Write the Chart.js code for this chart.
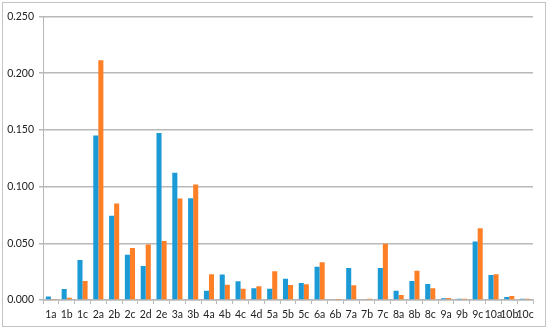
<!DOCTYPE html>
<html>
<head>
<meta charset="utf-8">
<script src="https://cdn.jsdelivr.net/npm/chart.js@4"></script>
<style>
  body { margin: 0; background: #fff; }
  #quadro { position: absolute; left: 2px; top: 2px; width: 542px; height: 323px; border: 1px solid #c4c4c4; }
</style>
</head>
<body>
<div id="quadro"><canvas id="meuGrafico" width="542" height="323"></canvas></div>
<script>
    // categorias do eixo X
    const categorias = ['1a','1b','1c','2a','2b','2c','2d','2e','3a','3b','4a','4b','4c','4d','5a','5b','5c',
                        '6a','6b','7a','7b','7c','8a','8b','8c','9a','9b','9c','10a','10b','10c'];

    // serie azul
    const serieAzul = [0.003, 0.0097, 0.0353, 0.145, 0.0742, 0.040, 0.030, 0.1472, 0.1122, 0.0898,
                       0.0082, 0.0224, 0.0165, 0.0103, 0.010, 0.0188, 0.015, 0.0294, 0.0006, 0.0283,
                       0.0006, 0.0283, 0.0082, 0.0168, 0.0141, 0.0015, 0.0012, 0.0515, 0.0221, 0.0027, 0.001];

    // serie laranja
    const serieLaranja = [0.0005, 0.002, 0.0168, 0.2114, 0.0851, 0.0459, 0.0489, 0.0521, 0.0895, 0.1019,
                          0.0227, 0.0135, 0.010, 0.0121, 0.0253, 0.0133, 0.0138, 0.0333, 0.0002, 0.013,
                          0.001, 0.0495, 0.0044, 0.0259, 0.0103, 0.0018, 0.001, 0.0633, 0.0227, 0.0035, 0.001];

    // marcas do eixo Y
    const ticksY = [0, 0.05, 0.10, 0.15, 0.20, 0.25];

    const fonte = { family: 'Lato', size: 10.5 };
    const cinza = '#b8b8b8';

    const ctx = document.getElementById('meuGrafico').getContext('2d');

    const meuGrafico = new Chart(ctx, {
        type: 'bar',
        data: {
            labels: categorias,
            datasets: [{
                label: 'Serie 1',
                data: serieAzul,
                backgroundColor: '#1c9ad6',
                categoryPercentage: 0.64,
                barPercentage: 1
            }, {
                label: 'Serie 2',
                data: serieLaranja,
                backgroundColor: '#ff7f27',
                categoryPercentage: 0.64,
                barPercentage: 1
            }]
        },
        options: {
            responsive: false,
            animation: false,
            layout: { padding: { top: 13.5, right: 12, left: 0, bottom: 0 } },
            plugins: { legend: { display: false }, tooltip: { enabled: false } },
            scales: {
                x: {
                    grid: { display: true, offset: true, drawOnChartArea: false, tickLength: 4, color: cinza, lineWidth: 1 },
                    border: { display: true, color: cinza, width: 1.5 },
                    ticks: { font: fonte, color: '#222', maxRotation: 0, autoSkip: false, padding: 4 },
                    afterFit: (s) => { s.height = 26; }
                },
                y: {
                    min: 0,
                    max: 0.25,
                    afterBuildTicks: (s) => { s.ticks = ticksY.map(v => ({ value: v })); },
                    grid: { color: cinza, lineWidth: 1.5, tickLength: 4 },
                    border: { display: true, color: cinza, width: 1 },
                    ticks: { font: fonte, color: '#222', padding: 5, callback: (v) => v.toFixed(3) },
                    afterFit: (s) => { s.width = 40; }
                }
            }
        }
    });
</script>
</body>
</html>
